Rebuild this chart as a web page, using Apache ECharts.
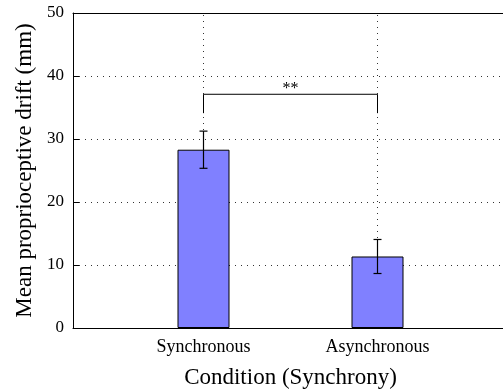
<!DOCTYPE html>
<html><head><meta charset="utf-8">
<script src="https://cdn.jsdelivr.net/npm/echarts@6/dist/echarts.min.js"></script>
<style>html,body{margin:0;padding:0;background:#fff}#c{width:503px;height:389px}</style>
</head><body><div id="c"></div>
<script>
const categories = ['Synchronous', 'Asynchronous'];
const positions = [1, 2];
const means = [28.3, 11.35];
const errors = [2.95, 2.7];
const yTicks = [0, 10, 20, 30, 40, 50];
const bracketTop = 37.1;
const bracketBottom = 34.1;
const sigLabel = '**';

const F = 'Liberation Serif';
const chart = echarts.init(document.getElementById('c'));
const barData = positions.map((p, i) => [p, means[i]]);
const errData = positions.map((p, i) => [p, means[i] - errors[i], means[i] + errors[i]]);

chart.setOption({
  animation: false,
  textStyle: { fontFamily: F },
  grid: { left: 73, top: 13, width: 435, height: 315, containLabel: false, outerBoundsMode: 'none' },
  xAxis: [{
    type: 'value', min: 0.25, max: 2.75,
    name: 'Condition (Synchrony)', nameLocation: 'middle', nameGap: 38,
    nameTextStyle: { fontFamily: F, fontSize: 23, color: '#000' },
    axisLine: { show: true, lineStyle: { color: '#000', width: 1 } },
    axisTick: { show: false },
    splitLine: { show: false },
    axisLabel: {
      customValues: positions,
      formatter: v => { const i = positions.indexOf(v); return i >= 0 ? categories[i] : ''; },
      fontFamily: F, fontSize: 18, color: '#000', margin: 10
    }
  }, {
    type: 'value', position: 'top', min: 0.25, max: 2.75,
    axisLine: { show: true, lineStyle: { color: '#000', width: 1 } },
    axisTick: { show: false }, axisLabel: { show: false }, splitLine: { show: false }
  }],
  yAxis: {
    type: 'value', min: yTicks[0], max: yTicks[yTicks.length - 1], interval: 10,
    name: 'Mean proprioceptive drift (mm)', nameLocation: 'middle', nameGap: 37,
    nameTextStyle: { fontFamily: F, fontSize: 23, color: '#000' },
    axisLine: { show: true, lineStyle: { color: '#000', width: 1 } },
    axisTick: { show: true, inside: true, length: 6, lineStyle: { color: '#000' } },
    axisLabel: { fontFamily: F, fontSize: 17, color: '#000', margin: 9 },
    splitLine: { show: true, lineStyle: { color: '#333', type: [1, 5], width: 1 } }
  },
  series: [{
    type: 'bar', data: barData, barWidth: 52, z: 3,
    itemStyle: { color: '#8080ff', borderColor: '#000', borderWidth: 1 },
    markLine: {
      silent: true, symbol: 'none', label: { show: false }, z: 1,
      lineStyle: { color: '#333', type: [1, 5], width: 1 },
      data: positions.map(p => ({ xAxis: p }))
    }
  }, {
    type: 'custom', data: errData, z: 5,
    renderItem: (params, api) => {
      const x = api.value(0);
      const lo = api.coord([x, api.value(1)]);
      const hi = api.coord([x, api.value(2)]);
      const st = { stroke: '#000', lineWidth: 1.2 };
      return { type: 'group', children: [
        { type: 'line', shape: { x1: lo[0], y1: lo[1], x2: hi[0], y2: hi[1] }, style: st },
        { type: 'line', shape: { x1: lo[0] - 4, y1: lo[1], x2: lo[0] + 4, y2: lo[1] }, style: st },
        { type: 'line', shape: { x1: hi[0] - 4, y1: hi[1], x2: hi[0] + 4, y2: hi[1] }, style: st }
      ] };
    }
  }, {
    type: 'custom', data: [[positions[0], positions[1], bracketTop, bracketBottom]], z: 5,
    renderItem: (params, api) => {
      const a = api.coord([api.value(0), api.value(2)]);
      const b = api.coord([api.value(1), api.value(2)]);
      const ab = api.coord([api.value(0), api.value(3)]);
      const bb = api.coord([api.value(1), api.value(3)]);
      const st = { stroke: '#000', lineWidth: 1 };
      return { type: 'group', children: [
        { type: 'polyline', shape: { points: [[ab[0], ab[1]], [a[0], a[1]], [b[0], b[1]], [bb[0], bb[1]]] }, style: Object.assign({ fill: null }, st) },
        { type: 'text', style: { text: sigLabel, x: (a[0] + b[0]) / 2, y: a[1] - 5, align: 'center', verticalAlign: 'middle', font: '16px "Liberation Serif"', fill: '#000' } }
      ] };
    }
  }]
});
</script></body></html>
